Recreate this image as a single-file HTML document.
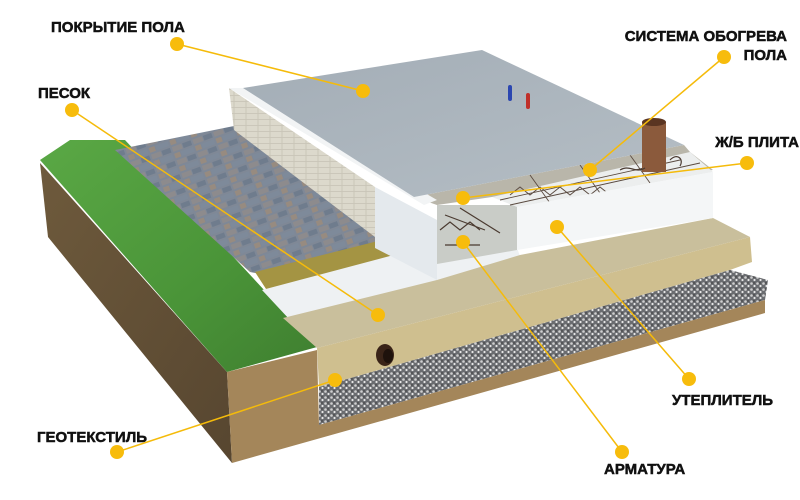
<!DOCTYPE html>
<html><head><meta charset="utf-8"><style>
html,body{margin:0;padding:0;background:#fff;}
svg{display:block}
.t{font-family:"Liberation Sans",sans-serif;font-weight:bold;font-size:15px;fill:#111;stroke:#111;stroke-width:0.5;}
</style></head><body>
<svg width="800" height="500" viewBox="0 0 800 500" xmlns="http://www.w3.org/2000/svg">
<defs>
<linearGradient id="slab" x1="0" y1="0" x2="1" y2="1"><stop offset="0" stop-color="#a3adb6"/><stop offset="1" stop-color="#b5bec5"/></linearGradient>
<linearGradient id="grass" x1="0" y1="0" x2="1" y2="1"><stop offset="0" stop-color="#5aa845"/><stop offset="0.6" stop-color="#4a9438"/><stop offset="1" stop-color="#3f7f30"/></linearGradient>
<linearGradient id="soilL" x1="0" y1="0" x2="1" y2="1"><stop offset="0" stop-color="#6e5a3c"/><stop offset="1" stop-color="#574630"/></linearGradient>
<pattern id="grav" width="6" height="6" patternUnits="userSpaceOnUse"><rect width="6" height="6" fill="#6a6c70"/><circle cx="1.5" cy="1.5" r="1.3" fill="#cfcfcf"/><circle cx="4.5" cy="4" r="1.1" fill="#e8e8e8"/><circle cx="4" cy="1" r="0.7" fill="#333"/></pattern>
<pattern id="pave" width="22" height="14" patternUnits="userSpaceOnUse" patternTransform="rotate(-20)"><rect width="22" height="14" fill="#7f8896"/><rect x="1" y="1" width="10" height="5" fill="#8d8b8d"/><rect x="12" y="1" width="9" height="5" fill="#6f7c8d"/><rect x="1" y="8" width="6" height="5" fill="#978b80"/><rect x="8" y="8" width="13" height="5" fill="#7e8a9a"/></pattern>
<pattern id="brick" width="12" height="6" patternUnits="userSpaceOnUse"><rect width="12" height="6" fill="#dcd9cc"/><path d="M0 5.5H12M6 0V5.5" stroke="#c6c2b4" stroke-width="0.8"/></pattern>
</defs>

<polygon points="40,163 227,372 232,463 48,237" fill="url(#soilL)"/>
<polygon points="40,160 70,140 125,140 317,347 227,372" fill="url(#grass)"/>
<polygon points="115,150 234,126 390,238 265,275 250,272" fill="url(#pave)"/>
<polygon points="229,88 375,187 375,237 234,130" fill="url(#brick)"/>
<polygon points="255,272 390,238 405,252 268,292" fill="#a49443"/>
<polygon points="262,290 405,252 437,262 517,248 520,256 440,285 290,320" fill="#eef1f3"/>
<polygon points="283,318 437,280 520,255 713,218 750,237 317,348" fill="#c9bf9c"/>
<polygon points="317,348 750,237 752,262 730,270 319,387" fill="#cfbf8f"/>
<polygon points="319,387 730,270 768,280 765,300 319,425" fill="url(#grav)"/>
<polygon points="227,372 317,350 319,425 765,300 765,313 232,463" fill="#a4865a"/>
<ellipse cx="385" cy="355" rx="9" ry="11" fill="#3a2418"/>
<ellipse cx="388" cy="356" rx="5" ry="7" fill="#1e120c"/>
<polygon points="375,187 437,220 437,280 375,248" fill="#e4e9ed"/>
<polygon points="437,205 517,205 517,250 437,264" fill="#c9ccc7"/>
<path d="M440 230l10-8 10 8 10-8 10 8M445 215l40 15M445 245l35 0M460 208l40 25" stroke="#4a3a30" stroke-width="1.2" fill="none"/>
<polygon points="414,197 684,145 690,152 713,170 492,197 437,205" fill="#b9b6aa"/>
<polygon points="492,197 690,152 713,172 517,207" fill="#eceeee"/>
<path d="M500 200l180-40M510 205l190-42M530 175l20 28M580 165l20 28M630 155l20 28M510 195l10-8 10 8 10-8 10 8 10-8 10 8 10-8 10 8 10-8 10 8" stroke="#5a4a40" stroke-width="0.9" fill="none"/>
<polygon points="517,207 713,172 713,218 517,250" fill="#f4f6f7"/>
<polygon points="229,88 243,88 437,200 424,205" fill="#f2f4f5"/>
<polygon points="243,88 482,50 684,145 414,197" fill="url(#slab)"/>
<rect x="508" y="85" width="4" height="16" rx="2" fill="#2b46b0"/>
<rect x="526" y="93" width="4" height="16" rx="2" fill="#c0302a"/>
<rect x="642" y="122" width="24" height="50" fill="#8b5a3c"/>
<ellipse cx="654" cy="122" rx="12" ry="4" fill="#5a3522"/>
<path d="M620 170c10-6 15 4 25-2M670 160c8-8 14 0 10 6" stroke="#4a3a30" stroke-width="1.2" fill="none"/>

<g stroke="#f5bb0a" stroke-width="1.5" fill="none">
<line x1="177" y1="44" x2="363" y2="91"/>
<line x1="72" y1="110" x2="378" y2="315"/>
<line x1="724" y1="57" x2="590" y2="170"/>
<line x1="747" y1="163" x2="463" y2="198"/>
<line x1="689" y1="379" x2="557" y2="227"/>
<line x1="622" y1="452" x2="463" y2="242"/>
<line x1="117" y1="452" x2="335" y2="380"/>
</g>
<g fill="#f7bc0c">
<circle cx="177" cy="44" r="7"/><circle cx="363" cy="91" r="7"/>
<circle cx="72" cy="110" r="7"/><circle cx="378" cy="315" r="7"/>
<circle cx="724" cy="57" r="7"/><circle cx="590" cy="170" r="7"/>
<circle cx="747" cy="163" r="7"/><circle cx="463" cy="198" r="7"/>
<circle cx="689" cy="379" r="7"/><circle cx="557" cy="227" r="7"/>
<circle cx="622" cy="452" r="7"/><circle cx="463" cy="242" r="7"/>
<circle cx="117" cy="452" r="7"/><circle cx="335" cy="380" r="7"/>
</g>
<text class="t" x="51" y="32">ПОКРЫТИЕ ПОЛА</text>
<text class="t" x="38" y="98">ПЕСОК</text>
<text class="t" x="787" y="41" text-anchor="end">СИСТЕМА ОБОГРЕВА</text>
<text class="t" x="787" y="60" text-anchor="end">ПОЛА</text>
<text class="t" x="799" y="147" text-anchor="end">Ж/Б ПЛИТА</text>
<text class="t" x="672" y="405">УТЕПЛИТЕЛЬ</text>
<text class="t" x="604" y="474">АРМАТУРА</text>
<text class="t" x="37" y="442">ГЕОТЕКСТИЛЬ</text>
</svg>
</body></html>
